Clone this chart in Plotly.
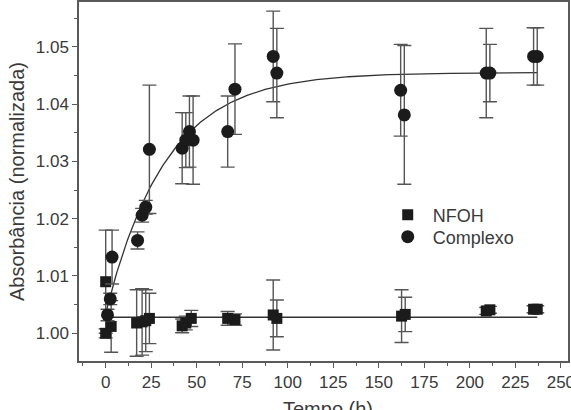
import numpy as np
import plotly.graph_objects as go

# ---- data ----
nfoh_t = [0, 0, 3, 17, 20, 22, 24, 42, 44, 47, 67, 71, 92, 94, 162.5, 164.5, 209, 211, 235, 237]
nfoh_y = [1.0090, 1.0000, 1.0012, 1.0018, 1.0020, 1.0022, 1.0026, 1.0013, 1.0018, 1.0026,
          1.0026, 1.0024, 1.0032, 1.0026, 1.0030, 1.0033, 1.0039, 1.0041, 1.0042, 1.0042]
nfoh_err = [0.0090, 0.0008, 0.0045, 0.0058, 0.0058, 0.0054, 0.0044, 0.0012, 0.0012, 0.0014,
            0.0012, 0.0010, 0.0061, 0.0032, 0.0046, 0.0030, 0.0006, 0.0006, 0.0006, 0.0006]

complexo_t = [1, 2.5, 3.5, 17.5, 20, 22, 24, 42, 44, 46, 48, 67, 71, 92, 94, 162, 164, 209, 211, 235, 237]
complexo_y = [1.0032, 1.0060, 1.0133, 1.0162, 1.0206, 1.0220, 1.0321, 1.0323, 1.0337, 1.0352, 1.0337,
              1.0352, 1.0426, 1.0483, 1.0454, 1.0424, 1.0381, 1.0454, 1.0454, 1.0483, 1.0483]
complexo_err = [0.0010, 0.0010, 0.0047, 0.0015, 0.0012, 0.0012, 0.0112, 0.0062, 0.0048, 0.0062, 0.0077,
                0.0062, 0.0079, 0.0079, 0.0078, 0.0080, 0.0121, 0.0078, 0.0050, 0.0050, 0.0050]

# fitted models shown in the reference (single exponential / constant)
fit_plateau = 1.0455
fit_amplitude = 0.0420
fit_tau = 33.0
fit_t_range = [0, 237]
nfoh_level = 1.0028

x_ticks = [0, 25, 50, 75, 100, 125, 150, 175, 200, 225, 250]
y_ticks = [1.00, 1.01, 1.02, 1.03, 1.04, 1.05]
y_ticklabels = ["1.00", "1.01", "1.02", "1.03", "1.04", "1.05"]

MARK = "#1b1b1b"
ERR = "#555555"
AX = "#5a5a5a"
TXT = "#3a3a3a"
FONT = "Liberation Sans, Arial, sans-serif"

fig = go.Figure()

tf = np.linspace(fit_t_range[0], fit_t_range[1], 300)
yf = fit_plateau - fit_amplitude * np.exp(-tf / fit_tau)
fig.add_trace(go.Scatter(x=tf, y=yf, mode="lines", line=dict(color="#333333", width=1.3),
                         showlegend=False, hoverinfo="skip"))
fig.add_trace(go.Scatter(x=fit_t_range, y=[nfoh_level, nfoh_level], mode="lines",
                         line=dict(color="#333333", width=1.3), showlegend=False, hoverinfo="skip"))

fig.add_trace(go.Scatter(
    x=nfoh_t, y=nfoh_y, mode="markers", name="NFOH", legend="legend",
    marker=dict(symbol="square", size=11, color=MARK),
    error_y=dict(type="data", array=nfoh_err, color=ERR, thickness=1.4, width=7),
))
fig.add_trace(go.Scatter(
    x=complexo_t, y=complexo_y, mode="markers", name="Complexo", legend="legend2",
    marker=dict(symbol="circle", size=13, color=MARK),
    error_y=dict(type="data", array=complexo_err, color=ERR, thickness=1.4, width=7),
))

leg_common = dict(xanchor="left", yanchor="middle", bgcolor="rgba(0,0,0,0)",
                  font=dict(size=18, color=TXT), itemsizing="trace", itemwidth=40)

fig.update_layout(
    width=571, height=410,
    margin=dict(l=79, r=3, t=2, b=49),
    paper_bgcolor="white", plot_bgcolor="white",
    font=dict(family=FONT, color=TXT, size=17),
    legend=dict(x=0.6211, y=(361 - 215) / 359, **leg_common),
    legend2=dict(x=0.6211, y=(361 - 237) / 359, **leg_common),
    showlegend=True,
    annotations=[dict(text="Tempo (h)", xref="paper", yref="paper", x=0.509, y=(361 - 409) / 359,
                      xanchor="center", yanchor="middle", showarrow=False,
                      font=dict(size=20, color=TXT, family=FONT))],
)
fig.update_xaxes(
    range=[-14.66, 253.9], tickmode="array", tickvals=x_ticks,
    ticks="outside", ticklen=5, tickwidth=1.3, tickcolor=AX,
    showline=True, linecolor=AX, linewidth=1.5, mirror=True,
    showgrid=False, zeroline=False,
    minor=dict(dtick=12.5, tick0=0, ticks="outside", ticklen=3, tickcolor=AX, tickwidth=1.2),
    tickfont=dict(size=17), automargin=False, ticklabeloverflow="allow",
)
fig.update_yaxes(
    range=[0.99517, 1.0578], tickmode="array", tickvals=y_ticks, ticktext=y_ticklabels,
    ticks="outside", ticklen=5, tickwidth=1.3, tickcolor=AX,
    showline=True, linecolor=AX, linewidth=1.5, mirror=True,
    showgrid=False, zeroline=False,
    minor=dict(dtick=0.005, tick0=1.0, ticks="outside", ticklen=3, tickcolor=AX, tickwidth=1.2),
    title=dict(text="Absorbância (normalizada)", font=dict(size=20), standoff=6),
    tickfont=dict(size=17), automargin=False,
)

fig.write_html("out.html")
